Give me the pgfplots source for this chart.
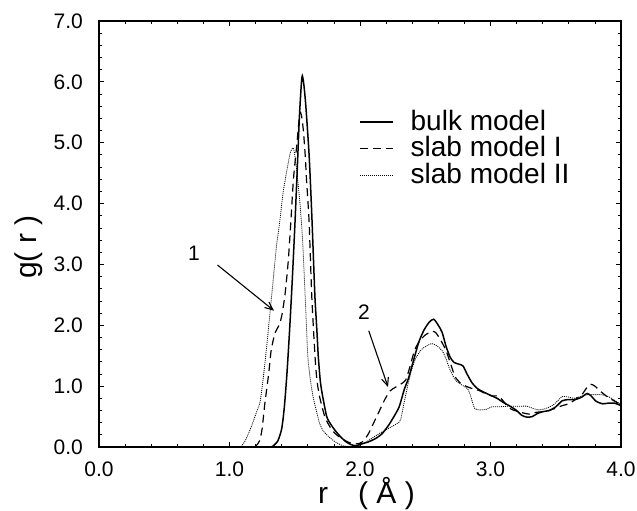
\documentclass[border=0pt]{standalone}
\usepackage{pgfplots}
\pgfplotsset{compat=1.18}
\usepackage{fontspec}
\setmainfont{Liberation Sans}
\usetikzlibrary{arrows.meta}
\begin{document}
\begin{tikzpicture}
\useasboundingbox (-99pt,-64pt) rectangle (538pt,447pt);
\begin{axis}[
  scale only axis, width=522pt, height=426pt,
  xmin=0, xmax=4, ymin=0, ymax=7,
  xtick={0,1,2,3,4}, ytick={0,1,2,3,4,5,6,7},
  minor x tick num=4, minor y tick num=4,
  tick align=inside,
  major tick length=5pt, minor tick length=3pt,
  axis line style={line width=1.6pt},
  every tick/.style={black, line width=0.8pt},
  tick label style={font=\fontsize{21}{21}\selectfont},
  xticklabel style={inner sep=0pt, anchor=north, yshift=-15pt},
  yticklabel style={inner sep=0pt, anchor=east, xshift=-16pt},
  /pgf/number format/fixed, /pgf/number format/fixed zerofill,
  /pgf/number format/precision=1, /pgf/number format/assume math mode=true,
  xlabel={r\hspace{30pt}( Å )},
  ylabel={g( r )},
  label style={font=\fontsize{30}{30}\selectfont},
  xlabel style={at={(axis description cs:0.5125,-0.1315)}, anchor=base},
  ylabel style={at={(axis description cs:-0.1197,0.469)}, anchor=base},
  legend image code/.code={\draw[#1] (0pt,8pt) -- (33pt,8pt);},
  legend style={at={(axis description cs:0.498,0.791)}, anchor=north west,
    draw=none, fill=none, inner sep=0pt, row sep=6.5pt, column sep=17pt,
    font=\fontsize{28}{28}\selectfont, cells={anchor=base west},
    nodes={anchor=base west, inner sep=0pt, text height=20pt, text depth=0pt}},
]
\addplot[black, line width=1.5pt, smooth, tension=0.4] coordinates {
(0,0) (0.5,0) (1.0,0) (1.25,0) (1.30,0) (1.33,0.01) (1.37,0.1) (1.40,0.3) (1.42,0.65) (1.44,1.2) (1.46,1.9) (1.48,2.7)
(1.50,3.6) (1.52,4.6) (1.535,5.4) (1.55,5.95) (1.558,6.1) (1.57,5.95) (1.585,5.6)
(1.61,4.8) (1.63,3.85) (1.645,3.0) (1.655,2.45) (1.67,1.9) (1.68,1.5) (1.695,1.1)
(1.71,0.88) (1.745,0.5) (1.78,0.36) (1.81,0.27) (1.85,0.17) (1.89,0.09) (1.93,0.04)
(1.97,0.02) (2.01,0.05) (2.06,0.08) (2.12,0.14) (2.17,0.22) (2.22,0.36) (2.26,0.5)
(2.30,0.66) (2.34,0.95) (2.37,1.12) (2.41,1.42) (2.45,1.72) (2.49,1.92) (2.53,2.05)
(2.565,2.10) (2.60,2.0) (2.63,1.88) (2.66,1.65) (2.69,1.48) (2.72,1.39) (2.76,1.36)
(2.79,1.33) (2.82,1.2) (2.86,1.05) (2.90,0.96) (2.95,0.90) (3.00,0.85) (3.05,0.80)
(3.10,0.73) (3.15,0.67) (3.20,0.6) (3.24,0.52) (3.28,0.49) (3.32,0.50) (3.36,0.55)
(3.40,0.58) (3.45,0.60) (3.50,0.66) (3.55,0.76) (3.60,0.78) (3.65,0.78) (3.70,0.82)
(3.74,0.88) (3.77,0.84) (3.81,0.75) (3.86,0.71) (3.90,0.72) (3.95,0.72) (4.0,0.68)
};
\addlegendentry{bulk model}
\addplot[black, line width=1.2pt, dash pattern=on 8pt off 5pt, smooth, tension=0.4] coordinates {
(0,0) (0.5,0) (1.0,0) (1.12,0) (1.17,0) (1.20,0.01) (1.23,0.1) (1.25,0.3) (1.27,0.7) (1.30,1.2) (1.32,1.6) (1.35,1.88)
(1.38,2.0) (1.40,2.15) (1.425,2.5) (1.45,3.05) (1.47,3.7) (1.49,4.4) (1.515,4.95)
(1.53,5.3) (1.543,5.5) (1.555,5.4) (1.566,5.2) (1.58,4.8) (1.59,4.4) (1.61,3.7)
(1.63,2.5) (1.655,1.5) (1.67,1.1) (1.69,0.83) (1.73,0.5) (1.77,0.33) (1.81,0.22)
(1.86,0.14) (1.91,0.08) (1.96,0.05) (2.01,0.07) (2.06,0.2) (2.11,0.42) (2.15,0.6)
(2.19,0.78) (2.23,0.92) (2.27,0.98) (2.31,1.03) (2.35,1.1) (2.38,1.3) (2.42,1.6)
(2.46,1.75) (2.50,1.84) (2.55,1.9) (2.58,1.88) (2.62,1.75) (2.66,1.58) (2.70,1.33)
(2.73,1.15) (2.77,1.05) (2.81,1.0) (2.86,0.96) (2.91,0.93) (2.96,0.88) (3.01,0.84)
(3.05,0.84) (3.08,0.8) (3.12,0.7) (3.16,0.62) (3.20,0.59) (3.25,0.56) (3.30,0.54)
(3.35,0.57) (3.40,0.58) (3.45,0.60) (3.50,0.64) (3.55,0.68) (3.60,0.71) (3.65,0.78)
(3.70,0.86) (3.74,0.98) (3.77,1.03) (3.80,1.0) (3.84,0.92) (3.88,0.85) (3.93,0.78)
(3.97,0.73) (4.0,0.71)
};
\addlegendentry{slab model I}
\addplot[black, line width=0.8pt, dash pattern=on 1pt off 1pt, smooth, tension=0.4] coordinates {
(0,0) (0.5,0) (0.95,0) (1.03,0) (1.07,0) (1.09,0.01) (1.12,0.1) (1.145,0.22) (1.17,0.35) (1.195,0.5) (1.215,0.62)
(1.235,0.75) (1.26,1.16) (1.285,1.65) (1.31,2.2) (1.335,2.75) (1.36,3.3) (1.385,3.7)
(1.41,4.17) (1.44,4.55) (1.465,4.83) (1.48,4.9) (1.49,4.91) (1.50,4.8) (1.515,4.55)
(1.54,4.0) (1.56,3.4) (1.58,2.47) (1.60,1.5) (1.62,1.1) (1.64,0.83) (1.665,0.6)
(1.69,0.39) (1.72,0.26) (1.76,0.17) (1.80,0.1) (1.83,0.06) (1.87,0.02) (1.91,0.01)
(1.96,0.01) (2.01,0.04) (2.06,0.1) (2.11,0.17) (2.17,0.25) (2.24,0.33) (2.28,0.38)
(2.31,0.44) (2.34,0.75) (2.37,1.05) (2.40,1.3) (2.43,1.47) (2.47,1.6) (2.51,1.66)
(2.55,1.70) (2.59,1.66) (2.63,1.58) (2.66,1.45) (2.68,1.32) (2.73,1.10) (2.78,1.02)
(2.83,0.94) (2.86,0.75) (2.88,0.63) (2.92,0.61) (2.97,0.62) (3.01,0.66) (3.06,0.66)
(3.14,0.67) (3.22,0.67) (3.28,0.67) (3.33,0.63) (3.37,0.61) (3.42,0.63) (3.48,0.69)
(3.52,0.77) (3.55,0.83) (3.60,0.82) (3.64,0.80) (3.69,0.83) (3.74,0.86) (3.80,0.86)
(3.85,0.86) (3.90,0.83) (3.95,0.77) (4.0,0.69)
};
\addlegendentry{slab model II}
\node[font=\fontsize{21}{21}\selectfont] at (axis cs:0.728,3.19) {1};
\node[font=\fontsize{21}{21}\selectfont] at (axis cs:2.03,2.22) {2};
\draw[line width=1.1pt, -{Straight Barb[length=8pt,width=7pt]}] (axis cs:0.908,2.99) -- (axis cs:1.341,2.24);
\draw[line width=1.1pt, -{Straight Barb[length=8pt,width=7pt]}] (axis cs:2.067,1.91) -- (axis cs:2.215,0.986);
\end{axis}
\end{tikzpicture}
\end{document}
